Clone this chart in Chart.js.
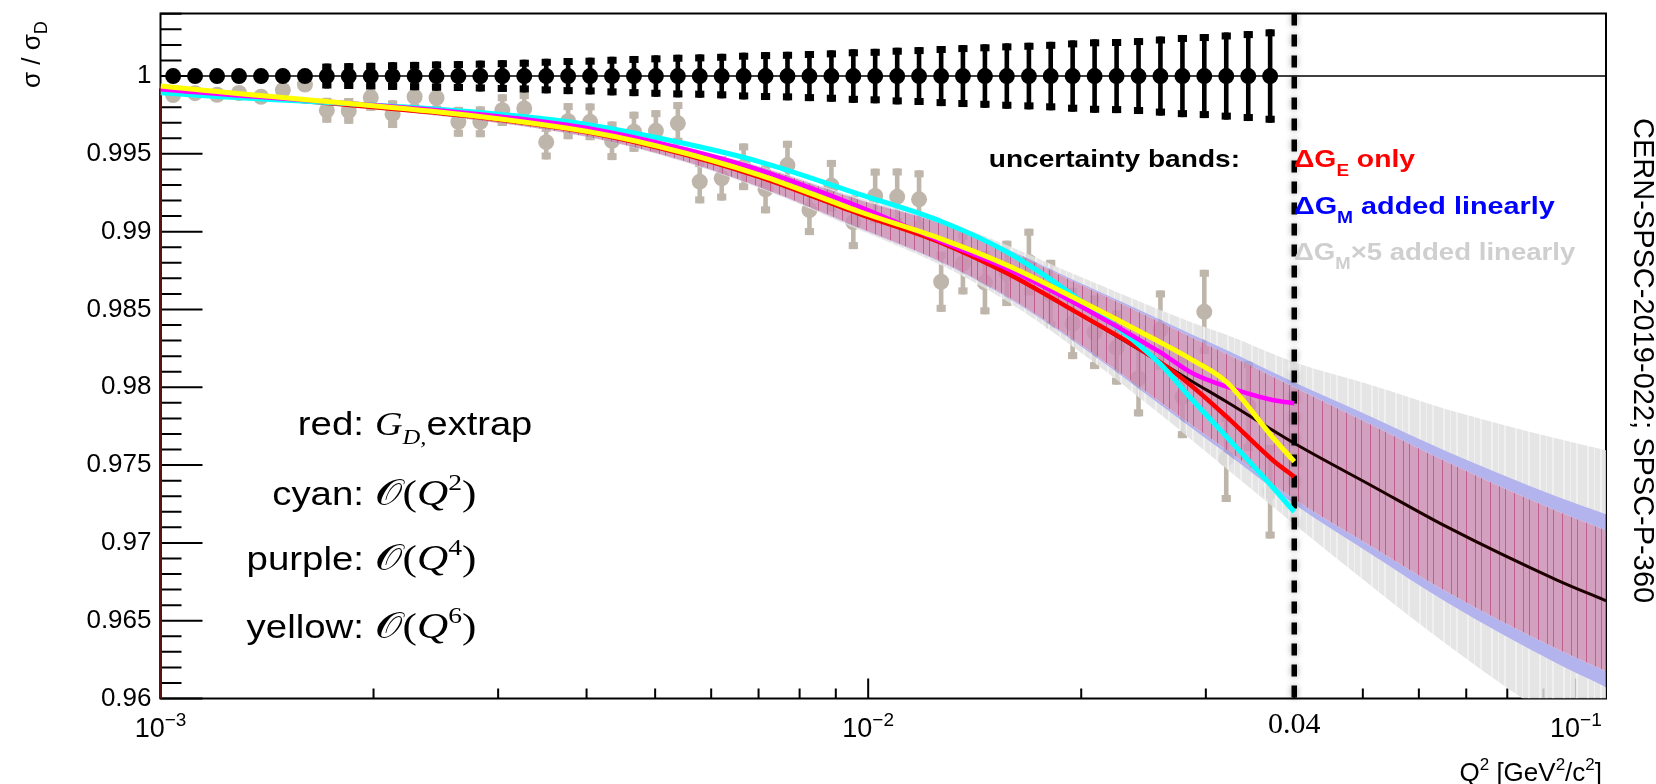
<!doctype html>
<html lang="en">
  <head>
    <meta charset="UTF-8" />
    <title>σ / σD versus Q²</title>
    <script src="https://cdn.jsdelivr.net/npm/chart.js"></script>
    <style>
      html, body { margin: 0; padding: 0; background: #ffffff; }
      canvas { display: block; }
    </style>
  </head>
  <body>
    <canvas id="ratioPlot" width="1656" height="784" style="width:1656px;height:784px"></canvas>
    <script>
      // ---- values ----
      // Q^2 bins of the projected measurement (GeV^2/c^2)
      const binQ2 = [
        0.001042, 0.001119, 0.001202, 0.001291, 0.001387, 0.001489, 0.0016, 0.001718,
        0.001845, 0.001982, 0.002128, 0.002286, 0.002455, 0.002636, 0.002831, 0.003041,
        0.003266, 0.003508, 0.003767, 0.004046, 0.004345, 0.004667, 0.005012, 0.005383,
        0.005781, 0.006209, 0.006668, 0.007161, 0.007691, 0.00826, 0.008872, 0.009528,
        0.01023, 0.01099, 0.0118, 0.01268, 0.01361, 0.01462, 0.0157, 0.01687,
        0.01811, 0.01945, 0.02089, 0.02244, 0.0241, 0.02588, 0.0278, 0.02985,
        0.03206, 0.03444, 0.03698
      ];
      // black: expected ratio with its uncertainty
      const expectedRatio = [
        1, 1, 1, 1, 1, 1, 1, 1, 1, 1, 1, 1, 1, 1, 1, 1, 1, 1, 1, 1, 1, 1, 1, 1, 1, 1,
        1, 1, 1, 1, 1, 1, 1, 1, 1, 1, 1, 1, 1, 1, 1, 1, 1, 1, 1, 1, 1, 1, 1, 1, 1
      ];
      const binError = [
        0.0005, 0.00053, 0.00056, 0.0006, 0.00064, 0.00068, 0.00072, 0.0008, 0.00083,
        0.00085, 0.00089, 0.00091, 0.00094, 0.00096, 0.00099, 0.00102, 0.00105, 0.00111,
        0.00116, 0.00118, 0.00124, 0.00129, 0.00133, 0.00137, 0.00139, 0.00143, 0.0015,
        0.00154, 0.00156, 0.00161, 0.00165, 0.00172, 0.00175, 0.00182, 0.00186, 0.00193,
        0.00199, 0.00204, 0.0021, 0.00214, 0.0022, 0.00229, 0.00236, 0.00238, 0.00244,
        0.00254, 0.00264, 0.0027, 0.0028, 0.00289, 0.003
      ];
      // grey: pseudo data
      const pseudoRatio = [
        0.99878, 0.9989, 0.9988, 0.99891, 0.99867, 0.9991, 0.99945, 0.9978, 0.99776,
        0.99862, 0.99755, 0.99867, 0.9986, 0.99706, 0.99706, 0.99781, 0.99792, 0.99575,
        0.9971, 0.99706, 0.99584, 0.99642, 0.99648, 0.99696, 0.99321, 0.99343, 0.99417,
        0.99272, 0.99428, 0.99139, 0.99296, 0.9906, 0.9923, 0.99224, 0.99208, 0.98678,
        0.98796, 0.98673, 0.98732, 0.98805, 0.98599, 0.9841, 0.98353, 0.98255, 0.98057,
        0.98368, 0.97937, 0.98485, 0.97543, 0.9788, 0.97328
      ];

      // dipole extrapolation and its uncertainty bands
      const bandQ2 = [
        0.001, 0.003763, 0.005077, 0.007028, 0.009727, 0.01262, 0.01569, 0.01945,
        0.02581, 0.02873, 0.03209, 0.04, 0.05176, 0.06564, 0.09404, 0.1103
      ];
      const bandCentre = [
        0.9992, 0.99659, 0.99537, 0.99351, 0.99113, 0.98933, 0.98734, 0.98496,
        0.98164, 0.98036, 0.97907, 0.9764, 0.97361, 0.97104, 0.96761, 0.96628
      ];
      const deltaGE = [
        0.000064, 0.000257, 0.000386, 0.000643, 0.0009, 0.001221, 0.001478, 0.001863,
        0.00257, 0.002827, 0.003084, 0.003598, 0.00392, 0.004177, 0.004434, 0.00453
      ];
      const deltaGM = [
        0.0000013, 0.0000051, 0.0000084, 0.0000141, 0.0000257, 0.000045, 0.0000643, 0.0000964,
        0.000154, 0.000193, 0.000244, 0.000321, 0.000514, 0.000675, 0.000932, 0.001028
      ];

      // fits up to the cut
      const fitQ2 = [
        0.001, 0.003763, 0.005077, 0.007028, 0.009727, 0.01262, 0.01569, 0.01945,
        0.02581, 0.02873, 0.03209, 0.03727, 0.04
      ];
      const redRatio = [
        0.9992, 0.99659, 0.99537, 0.99351, 0.99113, 0.98933, 0.98734, 0.98496,
        0.98164, 0.98004, 0.97811, 0.97533, 0.97425
      ];
      const cyanRatio = [
        0.99893, 0.99706, 0.996, 0.99449, 0.9924, 0.9907, 0.98871, 0.98593,
        0.98154, 0.97918, 0.97682, 0.97359, 0.972
      ];
      const magentaRatio = [
        0.99915, 0.99685, 0.99568, 0.99396, 0.9916, 0.98942, 0.98764, 0.9855,
        0.98228, 0.9809, 0.98004, 0.97918, 0.97897
      ];
      const yellowRatio = [
        0.99936, 0.99664, 0.99546, 0.99364, 0.99128, 0.98957, 0.98786, 0.9858,
        0.98291, 0.98175, 0.98034, 0.9768, 0.97522
      ];

      const yMajor = [0.96, 0.965, 0.97, 0.975, 0.98, 0.985, 0.99, 0.995, 1];
      const yMajorLabels = ["0.96", "0.965", "0.97", "0.975", "0.98", "0.985", "0.99", "0.995", "1"];
      const xDecades = [0.001, 0.01, 0.1];
      const xDecadeExp = ["\u22123", "\u22122", "\u22121"];
      const q2Cut = 0.04;

      // ---- helpers ----
      const pts = (xs, ys) => xs.map((q, i) => ({ x: q, y: ys[i] }));
      const offset = (k) => bandCentre.map((c, i) => c + k.ge * deltaGE[i] + k.gm * deltaGM[i]);

      const canvas = document.getElementById("ratioPlot");
      const c2d = canvas.getContext("2d");

      function stripes(base, line, marks) {
        const tile = document.createElement("canvas");
        tile.width = 24;
        tile.height = 8;
        const t = tile.getContext("2d");
        t.fillStyle = base;
        t.fillRect(0, 0, 24, 8);
        t.fillStyle = line;
        marks.forEach(([p, w]) => t.fillRect(p, 0, w, 8));
        return c2d.createPattern(tile, "repeat");
      }
      const pinkFill = stripes("rgba(203,139,178,0.82)", "rgba(187,84,134,0.82)", [[2, 1], [11, 1], [17, 1]]);
      const greyFill = stripes("rgba(225,225,225,0.85)", "rgba(242,242,242,0.85)", [[3, 2], [10, 1], [16, 2]]);
      const blueFill = "rgba(160,160,232,0.8)";
      const pseudoColour = "#bfb6ab";

      function band(data, fill, colour, order) {
        return {
          data, fill, backgroundColor: colour, order,
          borderWidth: 0, pointRadius: 0, cubicInterpolationMode: "monotone",
        };
      }
      function curve(data, colour, width, order) {
        return {
          data, borderColor: colour, borderWidth: width, order, fill: false,
          pointRadius: 0, cubicInterpolationMode: "monotone",
        };
      }

      // text runs, optionally stretched sideways (the reference lettering is wide)
      function runsWidth(ctx, parts, sx = 1) {
        let w = 0;
        parts.forEach(([t, font]) => { ctx.font = font; w += ctx.measureText(t).width; });
        return w * sx;
      }
      function drawRuns(ctx, x, y, parts, sx = 1) {
        ctx.save();
        ctx.translate(x, y);
        ctx.scale(sx, 1);
        ctx.textAlign = "left";
        let cx = 0;
        parts.forEach(([t, font, dy]) => {
          ctx.font = font;
          ctx.fillText(t, cx, dy || 0);
          cx += ctx.measureText(t).width;
        });
        ctx.restore();
        return cx * sx;
      }

      function errorBars(chart, ds, colour) {
        const { ctx, chartArea: a, scales: { x, y } } = chart;
        const r = ds.pointRadius;
        ctx.save();
        ctx.beginPath();
        ctx.rect(a.left, a.top, a.right - a.left, a.bottom - a.top);
        ctx.clip();
        ctx.fillStyle = colour;
        ds.data.forEach((p, i) => {
          const e = ds.errY[i];
          const px = x.getPixelForValue(p.x);
          const py = y.getPixelForValue(p.y);
          const up = py - y.getPixelForValue(p.y + e);
          if (up <= r + 4) return;
          const lo = y.getPixelForValue(p.y - e) - py;
          ctx.fillRect(px - 2.3, py - up, 4.6, up - r + 1);
          ctx.fillRect(px - 2.3, py + r - 1, 4.6, lo - r + 1);
          ctx.fillRect(px - 4.6, py - up, 9.2, 7);
          ctx.fillRect(px - 4.6, py + lo - 7, 9.2, 7);
        });
        ctx.restore();
      }

      const SANS = '"Liberation Sans", Arial, sans-serif';
      const SERIF = '"Liberation Serif", "Times New Roman", serif';

      const rootStyle = {
        id: "rootStyle",
        beforeDatasetsDraw(chart) {
          const { ctx, chartArea: a, scales: { x, y } } = chart;
          ctx.save();
          ctx.strokeStyle = "#000";
          ctx.lineWidth = 2;
          ctx.beginPath();
          for (let k = 0; k <= 44; k++) {
            const py = y.getPixelForValue(0.96 + k * 0.001);
            ctx.moveTo(a.left, py);
            ctx.lineTo(a.left + (k % 5 === 0 ? 42 : 21), py);
          }
          xDecades.forEach((d) => {
            for (let m = 1; m <= 9; m++) {
              const q = d * m;
              if (q < x.min || q > x.max) continue;
              const px = x.getPixelForValue(q);
              ctx.moveTo(px, a.bottom);
              ctx.lineTo(px, a.bottom - (m === 1 ? 20 : 10));
            }
          });
          ctx.stroke();
          ctx.strokeRect(a.left, a.top, a.right - a.left, a.bottom - a.top);
          ctx.strokeStyle = "#5a1313";
          ctx.lineWidth = 3;
          ctx.beginPath();
          ctx.moveTo(a.left, y.getPixelForValue(bandCentre[0]));
          ctx.lineTo(a.left, a.bottom);
          ctx.stroke();
          ctx.restore();
        },
        beforeDatasetDraw(chart, args) {
          const ds = chart.data.datasets[args.index];
          if (ds.isExpected) {
            const { ctx, chartArea: a, scales: { y } } = chart;
            ctx.save();
            ctx.strokeStyle = "#000";
            ctx.lineWidth = 1.5;
            ctx.beginPath();
            ctx.moveTo(a.left, y.getPixelForValue(1));
            ctx.lineTo(a.right, y.getPixelForValue(1));
            ctx.stroke();
            ctx.restore();
          }
          if (ds.errY) errorBars(chart, ds, ds.pointBackgroundColor);
        },
        afterDatasetDraw(chart, args) {
          if (!chart.data.datasets[args.index].isCentre) return;
          const { ctx, chartArea: a, scales: { x } } = chart;
          const px = x.getPixelForValue(q2Cut);
          ctx.save();
          ctx.strokeStyle = "#000";
          ctx.lineWidth = 5.5;
          ctx.setLineDash([12, 9]);
          ctx.shadowColor = "rgba(0,0,0,0.35)";
          ctx.shadowBlur = 6;
          ctx.beginPath();
          ctx.moveTo(px, a.top);
          ctx.lineTo(px, a.bottom);
          ctx.stroke();
          ctx.restore();
        },
        afterDraw(chart) {
          const { ctx, chartArea: a, scales: { x, y } } = chart;
          ctx.save();
          ctx.fillStyle = "#000";
          ctx.textBaseline = "middle";
          ctx.textAlign = "right";
          ctx.font = "26px " + SANS;
          yMajor.forEach((v, i) => ctx.fillText(yMajorLabels[i], a.left - 9, y.getPixelForValue(v)));

          ctx.textBaseline = "alphabetic";
          xDecades.forEach((d, i) => {
            const parts = [["10", "27px " + SANS, 0], [xDecadeExp[i], "19px " + SANS, -11]];
            drawRuns(ctx, x.getPixelForValue(d) - runsWidth(ctx, parts) / 2, 737, parts);
          });
          ctx.textAlign = "center";
          ctx.font = "30px " + SERIF;
          ctx.fillText("0.04", x.getPixelForValue(q2Cut), 733);

          // axis titles
          const xt = [
            ["Q", "26px " + SANS], ["2", "17px " + SANS, -11], [" [GeV", "26px " + SANS],
            ["2", "17px " + SANS, -11], ["/c", "26px " + SANS], ["2", "17px " + SANS, -11],
            ["]", "26px " + SANS],
          ];
          drawRuns(ctx, a.right - 4 - runsWidth(ctx, xt), 781, xt);

          ctx.save();
          ctx.translate(40, 88);
          ctx.rotate(-Math.PI / 2);
          drawRuns(ctx, 0, 0, [["\u03c3 / \u03c3", "26px " + SANS], ["D", "18px " + SANS, 7]]);
          ctx.restore();

          ctx.save();
          ctx.translate(1634, 118);
          ctx.rotate(Math.PI / 2);
          ctx.textAlign = "left";
          ctx.font = "29px " + SANS;
          ctx.fillText("CERN-SPSC-2019-022; SPSC-P-360", 0, 0);
          ctx.restore();

          // band legend
          const B = "bold 24px " + SANS;
          const Bs = "bold 16px " + SANS;
          const head = [["uncertainty bands:", B]];
          drawRuns(ctx, 1240 - runsWidth(ctx, head, 1.17), 167, head, 1.17);
          ctx.fillStyle = "#ff0000";
          drawRuns(ctx, 1294, 167, [["\u0394G", B], ["E", Bs, 9], [" only", B]], 1.18);
          ctx.fillStyle = "#0000ff";
          drawRuns(ctx, 1294, 214, [["\u0394G", B], ["M", Bs, 9], [" added linearly", B]], 1.2);
          ctx.fillStyle = "#cfcfcf";
          drawRuns(ctx, 1294, 260, [["\u0394G", B], ["M", Bs, 9], ["\u00d75 added linearly", B]], 1.15);

          // curve legend
          ctx.fillStyle = "#000";
          const L = "34px " + SANS;
          const M = "36px " + SERIF;
          const MI = "italic 36px " + SERIF;
          const MS = "23px " + SERIF;
          const CAL = '36px "DejaVu Serif", "DejaVu Sans", serif';
          const order = (n) => [["\ud835\udcaa", CAL], ["(", M], ["Q", MI], [n, MS, -15], [")", M]];
          const rows = [
            ["red:", 435, [["G", "italic 34px " + SERIF], ["D,", "italic 22px " + SERIF, 9], ["extrap", L]], 1.12],
            ["cyan:", 505, order("2"), 1.2],
            ["purple:", 570, order("4"), 1.2],
            ["yellow:", 638, order("6"), 1.2],
          ];
          rows.forEach(([lab, base, math, sx]) => {
            const p = [[lab, L]];
            drawRuns(ctx, 364 - runsWidth(ctx, p, 1.13), base, p, 1.13);
            drawRuns(ctx, 375, base, math, sx);
          });
          ctx.restore();
        },
      };

      new Chart(c2d, {
        type: "line",
        data: {
          datasets: [
            band(pts(bandQ2, offset({ ge: 1, gm: 5 })), 1, greyFill, 8),
            band(pts(bandQ2, offset({ ge: 1, gm: 1 })), 2, blueFill, 7),
            band(pts(bandQ2, offset({ ge: 1, gm: 0 })), 3, pinkFill, 6),
            band(pts(bandQ2, offset({ ge: -1, gm: 0 })), 4, blueFill, 7),
            band(pts(bandQ2, offset({ ge: -1, gm: -1 })), 5, greyFill, 8),
            band(pts(bandQ2, offset({ ge: -1, gm: -5 })), false, "transparent", 8),
            Object.assign(curve(pts(bandQ2, bandCentre), "#1c0000", 3, 5), { isCentre: true }),
            curve(pts(fitQ2, redRatio), "#ff0000", 4.5, 4),
            curve(pts(fitQ2, cyanRatio), "#00ffff", 5, 3),
            curve(pts(fitQ2, magentaRatio), "#ff00ff", 4.5, 2),
            curve(pts(fitQ2, yellowRatio), "#ffff00", 5, 1),
            {
              data: pts(binQ2, pseudoRatio), errY: binError, showLine: false, order: 9,
              pointRadius: 8, pointBackgroundColor: pseudoColour, pointBorderWidth: 0,
              pointBorderColor: pseudoColour,
            },
            {
              data: pts(binQ2, expectedRatio), errY: binError, isExpected: true, showLine: false,
              order: 0, pointRadius: 8, pointBackgroundColor: "#000000", pointBorderWidth: 0,
              pointBorderColor: "#000000",
            },
          ],
        },
        options: {
          responsive: false,
          animation: false,
          devicePixelRatio: 1,
          layout: { padding: { left: 160.5, right: 50, top: 13.5, bottom: 85.5 } },
          plugins: { legend: { display: false }, tooltip: { enabled: false } },
          scales: {
            x: { type: "logarithmic", min: 0.001, max: 0.1103, display: false },
            y: { type: "linear", min: 0.96, max: 1.00402, display: false },
          },
        },
        plugins: [rootStyle],
      });
    </script>
  </body>
</html>
